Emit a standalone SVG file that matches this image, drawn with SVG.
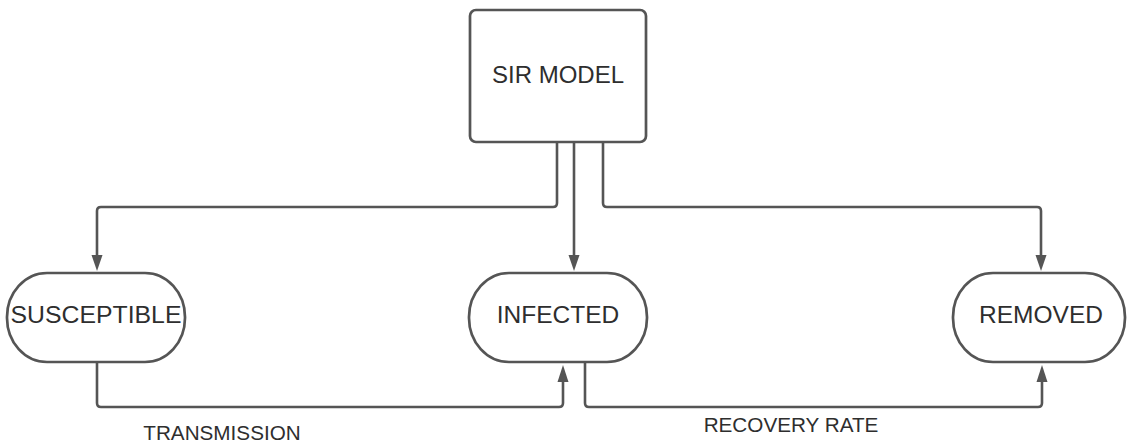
<svg xmlns="http://www.w3.org/2000/svg" width="1128" height="446" viewBox="0 0 1128 446">
  <defs>
    <style>
      .node { fill: #fff; stroke: #555; stroke-width: 2.7; }
      .lbl { font-family: "Liberation Sans", Arial, sans-serif; font-size: 24.5px; fill: #2e2e2e; text-anchor: middle; }
      .elbl { font-family: "Liberation Sans", Arial, sans-serif; font-size: 20.7px; fill: #2e2e2e; text-anchor: middle; }
      .conn { fill: none; stroke: #555; stroke-width: 2.6; }
      .head { fill: #555; }
    </style>
  </defs>
  <rect width="1128" height="446" fill="#fff"/>
  <g id="connectors">
    <path class="conn" d="M557,142 V203 Q557,207 553,207 H101 Q97,207 97,211 V256"/>
    <path class="head" d="M97,271 L91.5,255 L102.5,255 z"/>
    <path class="conn" d="M574,142 V256"/>
    <path class="head" d="M574,271 L568.5,255 L579.5,255 z"/>
    <path class="conn" d="M603,142 V203 Q603,207 607,207 H1037 Q1041,207 1041,211 V256"/>
    <path class="head" d="M1041,271 L1035.5,255 L1046.5,255 z"/>
    <path class="conn" d="M97,362 V403 Q97,407 101,407 H559 Q563,407 563,403 V381"/>
    <path class="head" d="M563,365 L557.5,382 L568.5,382 z"/>
    <path class="conn" d="M585,362 V403 Q585,407 589,407 H1038 Q1042,407 1042,403 V381"/>
    <path class="head" d="M1042,365 L1036.5,382 L1047.5,382 z"/>
    <text class="elbl" x="222" y="440">TRANSMISSION</text>
    <text class="elbl" x="791" y="432">RECOVERY RATE</text>
  </g>
  <g id="sir-model">
    <rect class="node" x="470" y="10" width="176" height="132" rx="6"/>
    <text class="lbl" x="558" y="83" style="font-size:24px">SIR MODEL</text>
  </g>
  <g id="susceptible">
    <rect class="node" x="7" y="273" width="178" height="89" rx="40" ry="44"/>
    <text class="lbl" x="96" y="323" style="font-size:24.8px">SUSCEPTIBLE</text>
  </g>
  <g id="infected">
    <rect class="node" x="469" y="273" width="178" height="89" rx="40" ry="44"/>
    <text class="lbl" x="558" y="323">INFECTED</text>
  </g>
  <g id="removed">
    <rect class="node" x="953" y="273" width="172" height="89" rx="40" ry="44"/>
    <text class="lbl" x="1041" y="323">REMOVED</text>
  </g>
</svg>
